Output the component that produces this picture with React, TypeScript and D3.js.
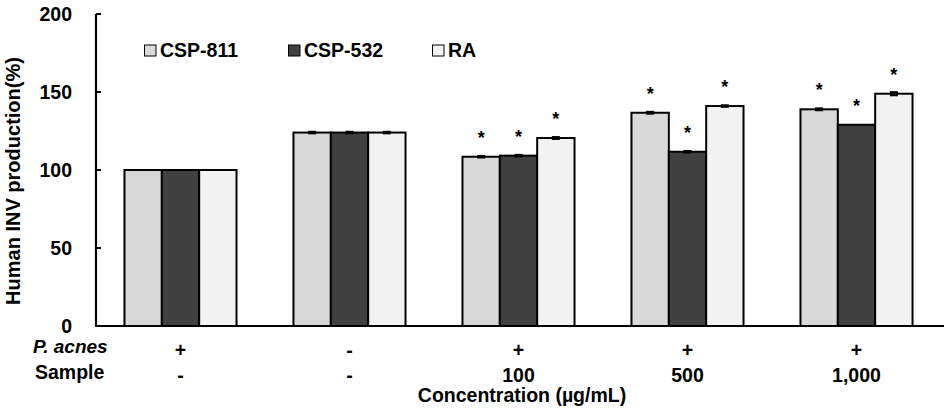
import React from "react";
import * as d3 from "d3";

const categories = ["g1", "g2", "g3", "g4", "g5"];
const seriesNames = ["CSP-811", "CSP-532", "RA"];
const csp811 = [100, 124, 108.5, 136.7, 138.9];
const csp532 = [100, 124, 109.2, 111.7, 129];
const raVals = [100, 124, 120.5, 141, 148.9];
const err811 = [0, 0.5, 0.5, 0.6, 0.6];
const err532 = [0, 0.5, 0.5, 0.5, 0];
const errRA = [0, 0.5, 0.6, 0.5, 1];
const sig811 = [false, false, true, true, true];
const sig532 = [false, false, true, true, true];
const sigRA = [false, false, true, true, true];
const pAcnes = ["+", "-", "+", "+", "+"];
const sample = ["-", "-", "100", "500", "1,000"];
const yTicks = [0, 50, 100, 150, 200];
const colors = ["#d9d9d9", "#404040", "#f2f2f2"];

const W = 944;
const H = 409;
const FONT = "'Liberation Sans', Arial, sans-serif";

export default function App() {
  const x = d3.scaleBand<string>().domain(categories).range([96, 941]).paddingInner(0.337).paddingOuter(0.1685);
  const x1 = d3.scaleBand<string>().domain(seriesNames).range([0, x.bandwidth()]);
  const y = d3.scaleLinear().domain([0, 200]).range([326, 14]);
  const values = [csp811, csp532, raVals];
  const errs = [err811, err532, errRA];
  const sigs = [sig811, sig532, sigRA];

  return (
    <svg width={W} height={H} style={{ position: "absolute", left: 0, top: 0, background: "#fff" }} fontFamily={FONT} fontWeight="bold">
      {/* bars */}
      {categories.map((c, i) => (
        <g key={c} transform={`translate(${x(c)},0)`}>
          {seriesNames.map((s, k) => {
            const v = values[k][i];
            const e = errs[k][i];
            const bx = x1(s)!;
            const cx = bx + x1.bandwidth() / 2;
            return (
              <g key={s}>
                <rect x={bx} y={y(v)} width={x1.bandwidth()} height={y(0) - y(v)} fill={colors[k]} stroke="#000" strokeWidth={2} />
                {e > 0 && (
                  <g stroke="#000" strokeWidth={2}>
                    <line x1={cx} x2={cx} y1={y(v + e)} y2={y(v - e)} />
                    <line x1={cx - 4} x2={cx + 4} y1={y(v + e)} y2={y(v + e)} />
                    <line x1={cx - 4} x2={cx + 4} y1={y(v - e)} y2={y(v - e)} />
                  </g>
                )}
                {sigs[k][i] && (
                  <text x={cx} y={y(v) - 23 + 10} textAnchor="middle" fontSize={18} fontWeight="bold">*</text>
                )}
              </g>
            );
          })}
        </g>
      ))}

      {/* y axis */}
      <line x1={96} x2={96} y1={y(200)} y2={y(0)} stroke="#000" strokeWidth={2.2} />
      {yTicks.map((t) => (
        <g key={t}>
          <line x1={96} x2={101} y1={y(t)} y2={y(t)} stroke="#000" strokeWidth={2} />
          <text x={72} y={y(t) + 6.5} textAnchor="end" fontSize={19.5}>{t}</text>
        </g>
      ))}
      {/* x axis */}
      <line x1={95} x2={944} y1={y(0)} y2={y(0)} stroke="#000" strokeWidth={2.2} />

      {/* y label */}
      <text transform={`translate(20,181) rotate(-90)`} textAnchor="middle" fontSize={20}>Human INV production(%)</text>

      {/* legend */}
      {seriesNames.map((s, k) => (
        <g key={s} transform={`translate(${144 + k * 144},0)`}>
          <rect x={0.5} y={45} width={11.5} height={11} fill={colors[k]} stroke="#000" strokeWidth={1} />
          <text x={16} y={57} fontSize={19.5}>{s}</text>
        </g>
      ))}

      {/* bottom labels */}
      <text x={33} y={353} fontSize={19} fontStyle="italic">P. acnes</text>
      <text x={35} y={379} fontSize={19.5}>Sample</text>
      {categories.map((c, i) => (
        <g key={c}>
          <text x={x(c)! + x.bandwidth() / 2} y={357} textAnchor="middle" fontSize={19.5}>{pAcnes[i]}</text>
          <text x={x(c)! + x.bandwidth() / 2} y={382} textAnchor="middle" fontSize={19.5}>{sample[i]}</text>
        </g>
      ))}
      <text x={522} y={402} textAnchor="middle" fontSize={19.5}>Concentration (µg/mL)</text>
    </svg>
  );
}
